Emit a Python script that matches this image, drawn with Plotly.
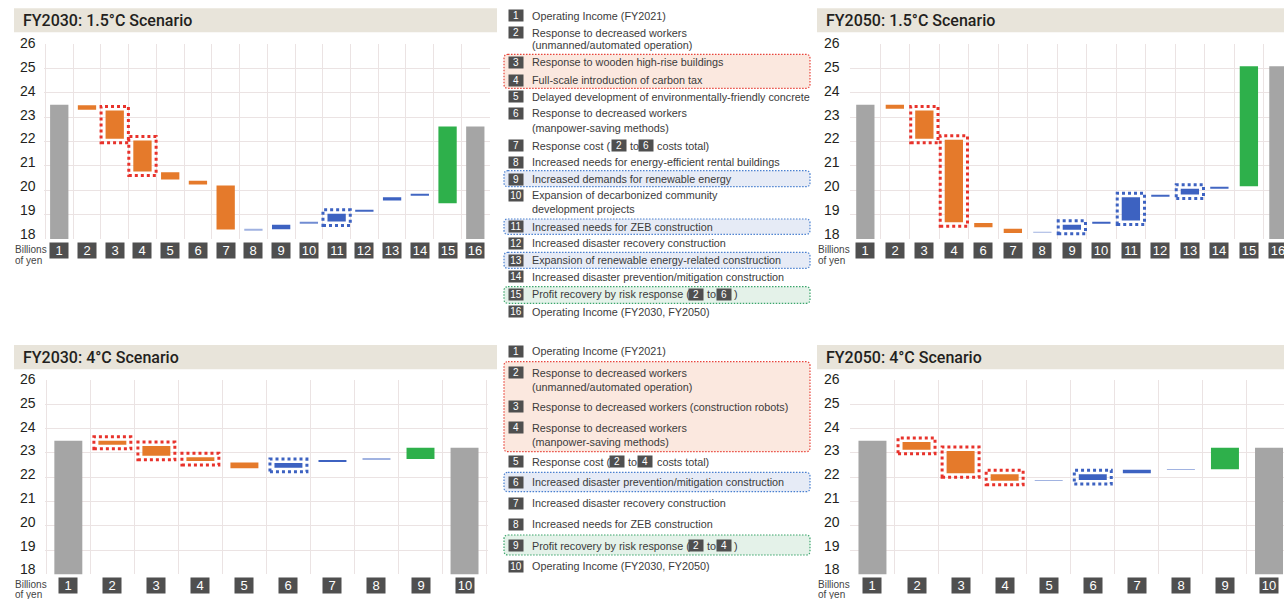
import plotly.graph_objects as go

W, H = 1284, 599

# ---------------- data (billions of yen) ----------------
# FY2030: 1.5°C scenario
s1_labels = ["1", "2", "3", "4", "5", "6", "7", "8", "9", "10", "11", "12", "13", "14", "15", "16"]
s1_start = [0, 23.48, 23.27, 22.04, 20.74, 20.39, 20.19, 18.37, 18.40, 18.64, 18.72, 19.12, 19.58, 19.79, 19.47, 0]
s1_end = [23.50, 23.30, 22.11, 20.77, 20.44, 20.23, 18.39, 18.39, 18.58, 18.67, 19.03, 19.16, 19.71, 19.83, 22.61, 22.61]
s1_kind = ["total", "cost", "cost", "cost", "cost", "cost", "cost", "gain", "gain", "gain",
           "gain", "gain", "gain", "gain", "recovery", "total"]
s1_marked = ["3", "4", "11"]

# FY2050: 1.5°C scenario (item 5 not applicable)
s2_labels = ["1", "2", "3", "4", "6", "7", "8", "9", "10", "11", "12", "13", "14", "15", "16"]
s2_start = [0, 23.50, 23.27, 22.07, 18.66, 18.42, 18.26, 18.38, 18.63, 18.76, 19.76, 19.82, 20.06, 20.16, 0]
s2_end = [23.50, 23.34, 22.11, 18.69, 18.48, 18.25, 18.28, 18.58, 18.69, 19.71, 19.80, 20.06, 20.10, 25.08, 25.08]
s2_kind = ["total", "cost", "cost", "cost", "cost", "cost", "gain", "gain", "gain", "gain",
           "gain", "gain", "gain", "recovery", "total"]
s2_marked = ["3", "4", "9", "11", "13"]

# FY2030: 4°C scenario
s3_labels = ["1", "2", "3", "4", "5", "6", "7", "8", "9", "10"]
s3_start = [0, 23.50, 23.28, 22.82, 22.60, 22.39, 22.65, 22.74, 22.75, 0]
s3_end = [23.50, 23.33, 22.88, 22.67, 22.37, 22.58, 22.70, 22.76, 23.21, 23.21]
s3_kind = ["total", "cost", "cost", "cost", "cost", "gain", "gain", "gain", "recovery", "total"]
s3_marked = ["2", "3", "4", "6"]

# FY2050: 4°C scenario
s4_labels = ["1", "2", "3", "4", "5", "6", "7", "8", "9", "10"]
s4_start = [0, 23.45, 23.08, 22.12, 21.85, 21.88, 22.16, 22.31, 22.33, 0]
s4_end = [23.50, 23.13, 22.16, 21.85, 21.87, 22.12, 22.30, 22.33, 23.21, 23.21]
s4_kind = ["total", "cost", "cost", "cost", "gain", "gain", "gain", "gain", "recovery", "total"]
s4_marked = ["2", "3", "4", "6"]

y_ticks = [18, 19, 20, 21, 22, 23, 24, 25, 26]

# legend texts: number, lines
legend_top = [
    ("1", ["Operating Income (FY2021)"]),
    ("2", ["Response to decreased workers", "(unmanned/automated operation)"]),
    ("3", ["Response to wooden high-rise buildings"]),
    ("4", ["Full-scale introduction of carbon tax"]),
    ("5", ["Delayed development of environmentally-friendly concrete"]),
    ("6", ["Response to decreased workers", "(manpower-saving methods)"]),
    ("7", ["Response cost ({2} to {6} costs total)"]),
    ("8", ["Increased needs for energy-efficient rental buildings"]),
    ("9", ["Increased demands for renewable energy"]),
    ("10", ["Expansion of decarbonized community", "development projects"]),
    ("11", ["Increased needs for ZEB construction"]),
    ("12", ["Increased disaster recovery construction"]),
    ("13", ["Expansion of renewable energy-related construction"]),
    ("14", ["Increased disaster prevention/mitigation construction"]),
    ("15", ["Profit recovery by risk response ({2} to {6})"]),
    ("16", ["Operating Income (FY2030, FY2050)"]),
]
legend_bottom = [
    ("1", ["Operating Income (FY2021)"]),
    ("2", ["Response to decreased workers", "(unmanned/automated operation)"]),
    ("3", ["Response to decreased workers (construction robots)"]),
    ("4", ["Response to decreased workers", "(manpower-saving methods)"]),
    ("5", ["Response cost ({2} to {4} costs total)"]),
    ("6", ["Increased disaster prevention/mitigation construction"]),
    ("7", ["Increased disaster recovery construction"]),
    ("8", ["Increased needs for ZEB construction"]),
    ("9", ["Profit recovery by risk response ({2} to {4})"]),
    ("10", ["Operating Income (FY2030, FY2050)"]),
]
# grouped items in each legend: (first, last, kind)
groups_top = [("3", "4", "cost"), ("9", "9", "gain"), ("11", "11", "gain"),
              ("13", "13", "gain"), ("15", "15", "recovery")]
groups_bottom = [("2", "4", "cost"), ("6", "6", "gain"), ("9", "9", "recovery")]

# ---------------- styling ----------------
BAR = {"total": "#a5a5a5", "cost": "#e57a2b", "gain": "#3d62c1", "recovery": "#2eb04b"}
MARK = {"cost": "#e8322b", "gain": "#3d62c1"}
GROUP_LINE = {"cost": "#e8453c", "gain": "#4a80d0", "recovery": "#3aa56b"}
GROUP_FILL = {"cost": "#fbe8df", "gain": "#e6ebf6", "recovery": "#e4f2e9"}
GRID = "#ebe3e3"
BOX = "#4f4f4f"
TITLE_BG = "#e8e4da"
TXT = "#231f20"
SANS = "Liberation Sans, Arial, sans-serif"


def PX(x):
    return x / W


def PY(y):
    return 1 - y / H


def mix_white(hex_color, t):
    r, g, b = (int(hex_color[i:i + 2], 16) for i in (1, 3, 5))
    r, g, b = (round(c + (255 - c) * t) for c in (r, g, b))
    return f"#{r:02x}{g:02x}{b:02x}"


charts = [
    dict(title="FY2030: 1.5°C Scenario", labels=s1_labels, start=s1_start, end=s1_end,
         kind=s1_kind, marked=s1_marked),
    dict(title="FY2050: 1.5°C Scenario", labels=s2_labels, start=s2_start, end=s2_end,
         kind=s2_kind, marked=s2_marked),
    dict(title="FY2030: 4°C Scenario", labels=s3_labels, start=s3_start, end=s3_end,
         kind=s3_kind, marked=s3_marked),
    dict(title="FY2050: 4°C Scenario", labels=s4_labels, start=s4_start, end=s4_end,
         kind=s4_kind, marked=s4_marked),
]

# panel geometry in pixels
frames = [
    dict(x0=44, x1=490, top=43.8, bot=239.0, xr=(0.45, 16.53), bw=0.66, lab_x=37,
         band=(14, 497, 8.3, 32.3), tx=22, box_y=250.2, unit_x=14, unit_y=(249, 260)),
    dict(x0=850, x1=1284, top=43.8, bot=239.0, xr=(0.48, 15.19), bw=0.62, lab_x=841,
         band=(817, 1284, 8.3, 32.3), tx=825, box_y=250.2, unit_x=817, unit_y=(249, 260)),
    dict(x0=45, x1=488.3, top=380, bot=574.3, xr=(0.47, 10.54), bw=0.635, lab_x=37,
         band=(14, 497, 345, 369.3), tx=22, box_y=585.5, unit_x=14, unit_y=(584.5, 594.5)),
    dict(x0=850, x1=1284, top=380, bot=574.3, xr=(0.49, 10.34), bw=0.635, lab_x=841,
         band=(817, 1284, 345, 369.3), tx=825, box_y=585.5, unit_x=817, unit_y=(584.5, 594.5)),
]

fig = go.Figure()
shapes = []
annotations = []
layout_axes = {}

for i, (c, f) in enumerate(zip(charts, frames)):
    sfx = "" if i == 0 else str(i + 1)
    xs = list(range(1, len(c["labels"]) + 1))
    px_per_cat = (f["x1"] - f["x0"]) / (f["xr"][1] - f["xr"][0])
    px_per_unit = (f["bot"] - f["top"]) / (y_ticks[-1] - y_ticks[0])

    heights = [e - s for s, e in zip(c["start"], c["end"])]
    colors = []
    for h, k in zip(heights, c["kind"]):
        hp = abs(h) * px_per_unit
        colors.append(mix_white(BAR[k], max(0.0, 1 - hp)) if hp < 1 else BAR[k])

    fig.add_trace(go.Bar(
        x=xs, y=heights, base=c["start"], width=f["bw"],
        marker=dict(color=colors, line=dict(width=0)),
        xaxis="x" + sfx, yaxis="y" + sfx, hoverinfo="skip", showlegend=False,
    ))

    layout_axes["xaxis" + sfx] = dict(
        domain=[PX(f["x0"]), PX(f["x1"])], range=list(f["xr"]), anchor="y" + sfx,
        showticklabels=False, tick0=0.5, dtick=1, ticks="", showgrid=True,
        gridcolor=GRID, gridwidth=1, zeroline=False, showline=False, fixedrange=True,
        automargin=False,
    )
    layout_axes["yaxis" + sfx] = dict(
        domain=[PY(f["bot"]), PY(f["top"])], range=[y_ticks[0], y_ticks[-1]],
        anchor="x" + sfx, tickvals=y_ticks, ticks="", showgrid=True, gridcolor=GRID,
        gridwidth=1, zeroline=False, showline=False, fixedrange=True, automargin=False,
        showticklabels=False,
    )

    # value labels of the y axis, set a little above their gridlines toward the bottom
    for t in y_ticks:
        annotations.append(dict(
            x=PX(f["lab_x"]), y=t, xref="paper", yref="y" + sfx, text=str(t),
            showarrow=False, xanchor="right", yanchor="middle", borderpad=0,
            yshift=1 + 4 * (y_ticks[-1] - t) / (y_ticks[-1] - y_ticks[0]),
            font=dict(family=SANS, size=14, color=TXT),
        ))

    # dotted outlines around the highlighted items
    padx = 4.5 / px_per_cat
    pady = 4.0 / px_per_unit
    for lab in c["marked"]:
        j = c["labels"].index(lab)
        lo, hi = sorted((c["start"][j], c["end"][j]))
        shapes.append(dict(
            type="rect", xref="x" + sfx, yref="y" + sfx,
            x0=xs[j] - f["bw"] / 2 - padx, x1=xs[j] + f["bw"] / 2 + padx,
            y0=lo - pady, y1=hi + pady,
            line=dict(color=MARK[c["kind"][j]], width=3, dash="dot"), layer="above",
        ))

    # category number boxes under the axis
    for x, lab in zip(xs, c["labels"]):
        annotations.append(dict(
            x=x, y=PY(f["box_y"]), xref="x" + sfx, yref="paper", text=lab,
            showarrow=False, xanchor="center", yanchor="middle", width=18, height=15,
            borderpad=0, bgcolor=BOX, font=dict(family=SANS, size=13, color="white"),
        ))

    # unit caption
    for txt, yy in zip(["Billions", "of yen"], f["unit_y"]):
        annotations.append(dict(
            x=PX(f["unit_x"]), y=PY(yy), xref="paper", yref="paper", text=txt,
            showarrow=False, xanchor="left", yanchor="middle", borderpad=0,
            font=dict(family=SANS, size=10, color="#444444"),
        ))

    # title band
    bx0, bx1, by0, by1 = f["band"]
    shapes.append(dict(type="rect", xref="paper", yref="paper", x0=PX(bx0), x1=PX(bx1),
                       y0=PY(by1), y1=PY(by0), fillcolor=TITLE_BG, line=dict(width=0),
                       layer="below"))
    annotations.append(dict(
        x=PX(f["tx"]), y=PY((by0 + by1) / 2 + 0.5), xref="paper", yref="paper",
        text=c["title"], showarrow=False, xanchor="left", yanchor="middle", borderpad=0,
        font=dict(family="Roboto, Liberation Sans, sans-serif", size=16, color=TXT, weight=500),
    ))


# ---------------- legends ----------------
def rounded_path(x0, y0, x1, y1, r):
    def p(x, y):
        return f"{PX(x):.6f},{PY(y):.6f}"
    return (f"M {p(x0 + r, y0)} L {p(x1 - r, y0)} Q {p(x1, y0)} {p(x1, y0 + r)} "
            f"L {p(x1, y1 - r)} Q {p(x1, y1)} {p(x1 - r, y1)} L {p(x0 + r, y1)} "
            f"Q {p(x0, y1)} {p(x0, y1 - r)} L {p(x0, y0 + r)} Q {p(x0, y0)} {p(x0 + r, y0)} Z")


def num_box(text, xc, yc, size=10):
    annotations.append(dict(
        x=PX(xc), y=PY(yc), xref="paper", yref="paper", text=text, showarrow=False,
        xanchor="center", yanchor="middle", width=14, height=11, borderpad=0,
        bgcolor=BOX, font=dict(family=SANS, size=size, color="white"),
    ))


def legend_text(text, x, y):
    annotations.append(dict(
        x=PX(x), y=PY(y), xref="paper", yref="paper", text=text, showarrow=False,
        xanchor="left", yanchor="middle", borderpad=0,
        font=dict(family=SANS, size=10.8, color="#3b3b3b"),
    ))


LEG_BOX_X = 515.5
LEG_TEXT_X = 530.7

# row centres (px) for the first/second lines of each legend entry
rows_top = [(15.7,), (32.7, 45.0), (62.3,), (80.0,), (96.7,), (113.3, 127.7), (145.7,),
            (162.3,), (179.0,), (195.0, 209.3), (226.7,), (243.3,), (260.0,), (276.7,),
            (294.3,), (311.7,)]
rows_bottom = [(351.0,), (372.7, 386.7), (406.7,), (427.7, 441.7), (461.7,), (482.3,),
               (503.3,), (524.3,), (545.7,), (566.0,)]
# x positions of the pieces of lines with inline number boxes
inline_x = {
    "Response cost ({2} to {6} costs total)": [530.7, 619.0, 628.5, 646.0, 656.0],
    "Profit recovery by risk response ({2} to {6})": [530.7, 696.0, 705.5, 724.0, 733.0],
    "Response cost ({2} to {4} costs total)": [530.7, 617.0, 626.5, 645.0, 656.0],
    "Profit recovery by risk response ({2} to {4})": [530.7, 696.0, 705.5, 724.0, 733.0],
}
group_bounds_top = {("3", "4"): (54.3, 88.3), ("9", "9"): (170.7, 186.7),
                    ("11", "11"): (219.0, 234.3), ("13", "13"): (252.3, 268.3),
                    ("15", "15"): (286.7, 303.3)}
group_bounds_bottom = {("2", "4"): (361.7, 451.7), ("6", "6"): (472.3, 491.7),
                       ("9", "9"): (535.0, 555.0)}


def split_inline(line):
    pieces = []
    rest = line
    while "{" in rest:
        a, b = rest.split("{", 1)
        num, rest = b.split("}", 1)
        pieces.append(("text", a.strip()))
        pieces.append(("box", num))
    pieces.append(("text", rest.strip()))
    return pieces


for items, rows, groups, bounds in [(legend_top, rows_top, groups_top, group_bounds_top),
                                    (legend_bottom, rows_bottom, groups_bottom, group_bounds_bottom)]:
    for first, last, kind in groups:
        y0, y1 = bounds[(first, last)]
        shapes.append(dict(type="path", xref="paper", yref="paper",
                           path=rounded_path(504, y0, 810, y1, 4),
                           fillcolor=GROUP_FILL[kind],
                           line=dict(color=GROUP_LINE[kind], width=1.2, dash="1.5px,1.5px"),
                           layer="below"))
    for (num, lines), ys in zip(items, rows):
        num_box(num, LEG_BOX_X, ys[0])
        for line, y in zip(lines, ys):
            if "{" in line:
                for (kind, txt), x in zip(split_inline(line), inline_x[line]):
                    if kind == "box":
                        num_box(txt, x, y)
                    elif txt:
                        legend_text(txt, x, y)
            else:
                legend_text(line, LEG_TEXT_X, y)

fig.update_layout(
    width=W, height=H, margin=dict(l=0, r=0, t=0, b=0, pad=0, autoexpand=False),
    paper_bgcolor="white", plot_bgcolor="white", barmode="overlay",
    shapes=shapes, annotations=annotations, showlegend=False,
    **layout_axes,
)

fig.write_html(
    "out.html",
    config={"displayModeBar": False},
    post_script="document.body.style.margin='0';document.documentElement.style.overflow='hidden';",
)
